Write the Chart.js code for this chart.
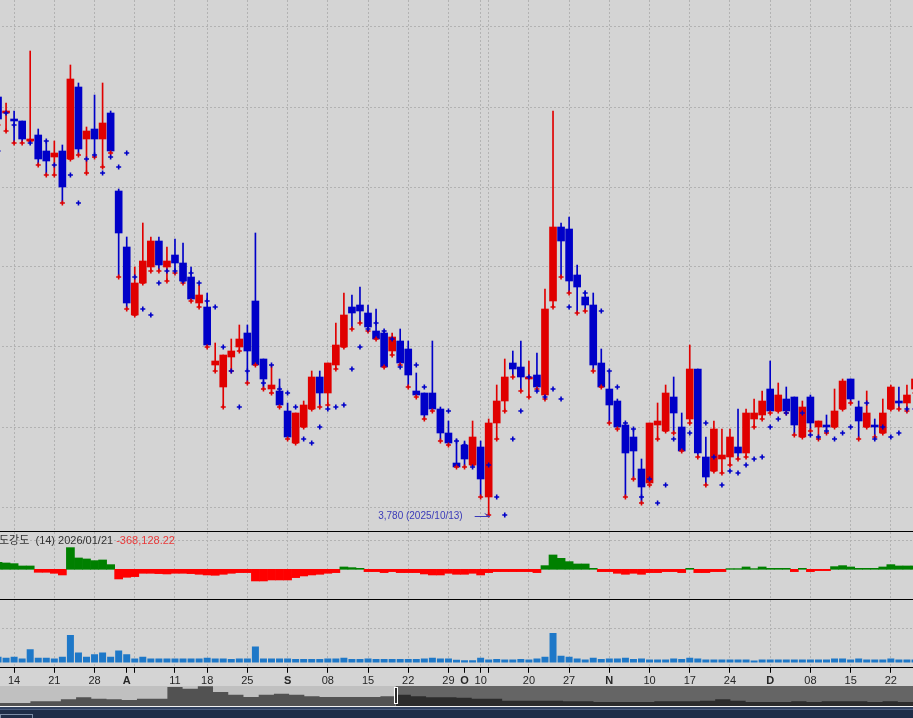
<!DOCTYPE html>
<html>
<head>
<meta charset="utf-8">
<script src="https://cdn.jsdelivr.net/npm/chart.js@4.4.1/dist/chart.umd.min.js"></script>
<style>
  html, body { margin: 0; padding: 0; width: 913px; height: 718px; overflow: hidden; background: #d4d4d4; }
  canvas { position: absolute; }
  .sep { position: absolute; left: 0; width: 913px; height: 1px; background: #000; }
  #oscTitle { position: absolute; left: -1px; top: 531px; font: 11px "Liberation Sans", "Noto Sans CJK KR", sans-serif; color: #303030; white-space: pre; }
  #oscTitle span { color: #e83a3a; }
  .bar { position: absolute; left: 0; width: 913px; }
</style>
</head>
<body>
<canvas id="main" width="925" height="531" style="left:-6px;top:0"></canvas>
<div class="sep" style="top:531px"></div>
<canvas id="osc" width="925" height="67" style="left:-6px;top:532px"></canvas>
<div id="oscTitle">도강도  (14) 2026/01/21 <span>-368,128.22</span></div>
<div class="sep" style="top:599px"></div>
<canvas id="vol" width="925" height="90" style="left:-6px;top:600px"></canvas>
<canvas id="nav" width="913" height="20" style="left:0;top:686px"></canvas>
<div class="bar" style="top:706px;height:1px;background:#f2f2f2"></div>
<div class="bar" style="top:707px;height:2px;background:#2f405f"></div>
<div class="bar" style="top:709px;height:1px;background:#4b5c7c"></div>
<div class="bar" style="top:710px;height:8px;background:#1f2d48"></div>
<div style="position:absolute;left:0;top:714px;width:31px;height:5px;border:1px solid #7d8ca6;background:#1f2d48"></div>
<script>
// trading days shown (Korea, 2025)
const tradingDays = {
  '2025-07': [10, 11, 14, 15, 16, 17, 18, 21, 22, 23, 24, 25, 28, 29, 30, 31],
  '2025-08': [1, 4, 5, 6, 7, 8, 11, 12, 13, 14, 18, 19, 20, 21, 22, 25, 26, 27, 28, 29],
  '2025-09': [1, 2, 3, 4, 5, 8, 9, 10, 11, 12, 15, 16, 17, 18, 19, 22, 23, 24, 25, 26, 29, 30],
  '2025-10': [1, 2, 10, 13, 14, 15, 16, 17, 20, 21, 22, 23, 24, 27, 28, 29, 30, 31],
  '2025-11': [3, 4, 5, 6, 7, 10, 11, 12, 13, 14, 17, 18, 19, 20, 21, 24, 25, 26, 27, 28],
  '2025-12': [1, 2, 3, 4, 5, 8, 9, 10, 11, 12, 15, 16, 17, 18, 19, 22, 23, 24, 26]
};
const dates = [];
Object.keys(tradingDays).forEach(m => tradingDays[m].forEach(d => dates.push(m + '-' + String(d).padStart(2, '0'))));

const opens = [4825,4785,4770,4765,4715,4730,4690,4675,4690,4670,
  4850,4720,4745,4720,4785,4590,4450,4280,4360,4400,
  4465,4400,4430,4410,4375,4310,4300,4155,4100,4175,
  4200,4235,4315,4170,4095,4090,4040,3960,4000,4045,
  4125,4085,4155,4200,4300,4305,4285,4240,4235,4190,
  4215,4195,4090,4085,4085,4045,3985,3910,3955,3905,
  3950,3825,4010,4065,4160,4150,4120,4130,4080,4315,
  4500,4495,4380,4325,4305,4160,4095,4065,4005,3975,
  3895,3860,4005,3990,4075,4000,4020,4145,3925,3890,
  3920,3925,3950,3935,4020,4030,4095,4040,4070,4075,
  3975,4075,4000,4005,4000,4045,4120,4050,4000,4005,
  3985,4045,4065,4060,4095];
const highs = [4830,4810,4790,4765,4940,4745,4715,4715,4705,4905,
  4860,4750,4830,4860,4790,4595,4475,4400,4510,4475,
  4475,4450,4470,4460,4400,4355,4335,4210,4180,4220,
  4255,4255,4485,4170,4155,4120,4060,4035,4065,4140,
  4140,4160,4260,4335,4330,4350,4305,4295,4240,4235,
  4245,4215,4135,4085,4215,4050,4015,3970,3965,4015,
  3965,4020,4105,4170,4190,4215,4165,4185,4345,4790,
  4510,4525,4405,4340,4335,4195,4140,4070,4010,3995,
  3920,4010,4060,4105,4125,4035,4205,4145,3975,4015,
  3995,3995,4045,4045,4070,4090,4165,4110,4100,4075,
  4065,4080,4015,4030,4095,4120,4120,4065,4090,4020,
  4070,4105,4100,4105,4120];
const lows = [4755,4740,4710,4710,4715,4655,4630,4630,4560,4670,
  4680,4635,4675,4650,4685,4375,4295,4280,4360,4390,
  4390,4365,4385,4360,4315,4300,4200,4140,4050,4140,
  4190,4110,4155,4095,4085,4050,3970,3960,4000,4045,
  4050,4055,4145,4200,4245,4260,4240,4220,4150,4180,
  4155,4100,4075,4020,4040,3965,3955,3900,3900,3905,
  3825,3780,3970,4040,4125,4090,4075,4095,4070,4300,
  4375,4335,4285,4290,4140,4100,4010,3995,3825,3870,
  3810,3855,3970,3990,3985,3940,4010,3925,3855,3890,
  3885,3905,3920,3925,4000,4020,4035,4040,4035,3980,
  3975,3990,3970,3985,4000,4045,4060,3970,4000,3975,
  3985,4045,4045,4040,4085];
const closes = [4770,4790,4765,4720,4720,4670,4665,4685,4600,4870,
  4695,4740,4720,4760,4690,4485,4310,4360,4415,4465,
  4405,4415,4410,4365,4320,4330,4205,4165,4180,4190,
  4220,4190,4155,4120,4105,4055,3975,4035,4055,4125,
  4085,4160,4205,4280,4285,4290,4250,4220,4150,4225,
  4160,4130,4080,4030,4045,3985,3960,3900,3920,3975,
  3870,4010,4065,4125,4145,4125,4125,4100,4295,4500,
  4465,4365,4350,4305,4155,4100,4055,4000,3935,3940,
  3850,4010,4015,4085,4035,3940,4145,3935,3875,3995,
  3930,3975,3935,4035,4035,4065,4040,4080,4040,4005,
  4050,4010,4015,4000,4040,4115,4070,4015,4035,4000,
  4035,4100,4060,4080,4120];
// blue markers: low displaced two sessions
const lagLow = [4690,4785,4755,4740,4710,4710,4715,4655,4630,4630,
  4560,4670,4680,4635,4675,4650,4685,4375,4295,4280,
  4360,4390,4390,4365,4385,4360,4315,4300,4200,4140,
  4050,4140,4190,4110,4155,4095,4085,4050,3970,3960,
  4000,4045,4050,4055,4145,4200,4245,4260,4240,4220,
  4150,4180,4155,4100,4075,4020,4040,3965,3955,3900,
  3900,3905,3825,3780,3970,4040,4125,4090,4075,4095,
  4070,4300,4375,4335,4285,4290,4140,4100,4010,3995,
  3825,3870,3810,3855,3970,3990,3985,3940,4010,3925,
  3855,3890,3885,3905,3920,3925,4000,4020,4035,4040,
  4035,3980,3975,3990,3970,3985,4000,4045,4060,3970,
  4000,3975,3985,4045,4045];
const strength = [1050000,950000,850000,500000,500000,-450000,-450000,-600000,-850000,3250000,
  1700000,1550000,1300000,1400000,700000,-1450000,-1200000,-1100000,-600000,-600000,
  -650000,-700000,-600000,-600000,-650000,-750000,-850000,-900000,-750000,-600000,
  -500000,-500000,-1750000,-1750000,-1600000,-1600000,-1600000,-1250000,-1000000,-850000,
  -750000,-600000,-500000,350000,250000,150000,-350000,-350000,-500000,-350000,
  -500000,-500000,-500000,-700000,-850000,-850000,-600000,-750000,-750000,-600000,
  -850000,-500000,-350000,-350000,-350000,-350000,-350000,-500000,550000,2150000,
  1650000,1150000,800000,800000,150000,-350000,-350000,-600000,-750000,-600000,
  -750000,-500000,-500000,-350000,-350000,-500000,150000,-500000,-500000,-350000,
  -350000,100000,100000,350000,100000,350000,150000,150000,150000,-350000,
  150000,-350000,-200000,-200000,400000,550000,350000,150000,150000,150000,
  350000,700000,500000,500000,500000];
const volumes = [340000,280000,340000,240000,780000,280000,280000,240000,340000,1600000,
  580000,340000,480000,580000,340000,700000,480000,240000,340000,240000,
  240000,240000,240000,240000,240000,240000,280000,240000,240000,200000,
  240000,240000,940000,240000,240000,240000,240000,200000,200000,200000,
  200000,240000,240000,280000,200000,200000,240000,200000,200000,200000,
  200000,200000,200000,240000,280000,240000,240000,160000,140000,140000,
  280000,180000,200000,180000,180000,200000,180000,240000,340000,1720000,
  400000,340000,240000,180000,280000,200000,240000,240000,280000,200000,
  240000,180000,180000,180000,240000,200000,280000,240000,180000,180000,
  180000,180000,180000,180000,120000,180000,180000,180000,180000,180000,
  180000,180000,180000,180000,240000,240000,180000,240000,180000,180000,
  180000,240000,180000,180000,180000];
// x-axis labels
const tickLabels = [
  ['2025-07-14','14'],['2025-07-21','21'],['2025-07-28','28'],['2025-08-01','A'],
  ['2025-08-11','11'],['2025-08-18','18'],['2025-08-25','25'],['2025-09-01','S'],
  ['2025-09-08','08'],['2025-09-15','15'],['2025-09-22','22'],['2025-09-29','29'],
  ['2025-10-01','O'],['2025-10-10','10'],['2025-10-20','20'],['2025-10-27','27'],
  ['2025-11-03','N'],['2025-11-10','10'],['2025-11-17','17'],['2025-11-24','24'],
  ['2025-12-01','D'],['2025-12-08','08'],['2025-12-15','15'],['2025-12-22','22']
];
// navigator: longer history of closes
const navClose = [3800,3800,4000,4000,4240,4480,4320,4240,4160,4320,
  4320,5720,5520,5800,5120,4800,4520,4800,4920,4800,
  4600,4520,4520,4520,4520,4600,4800,4600,4480,4480,
  4440,4320,4320,4080,4080,4080,4080,4000,4000,3920,
  3920,3920,3920,4000,4000,4000,4080,4240,4080,3920,
  3920,3920,4000,3920,4000,4000,4000,3920,4000,3920,4000];
const navWindowStart = 26;

Chart.defaults.animation = false;
Chart.defaults.font.family = '"Liberation Sans", Arial, sans-serif';
Chart.defaults.plugins.legend.display = false;
Chart.defaults.plugins.tooltip.enabled = false;

const UP = '#e00000', DOWN = '#0000c8', GRID = '#b2b2b2';
const candleColors = opens.map((o, i) => closes[i] >= o ? UP : DOWN);

const labelMap = new Map();
tickLabels.forEach(([d, t]) => labelMap.set(dates.indexOf(d), t));
// first session of each week gets a grid line
const weekOf = s => Math.floor((Date.parse(s) / 86400000 + 3) / 7);
const weekStart = new Set();
dates.forEach((d, i) => { if (i > 0 && weekOf(d) !== weekOf(dates[i - 1])) weekStart.add(i); });
const tickMark = new Set([...weekStart, ...labelMap.keys()]);

function xAxis(showLabels) {
  return {
    offset: true,
    grid: {
      offset: false,
      color: c => weekStart.has(c.index) ? GRID : 'transparent',
      drawTicks: showLabels,
      tickLength: 5,
      tickColor: c => tickMark.has(c.index) ? '#000' : 'transparent',
      tickBorderDash: []
    },
    border: { display: showLabels, color: '#000', width: 1, dash: [2, 2] },
    ticks: {
      display: showLabels,
      autoSkip: false,
      maxRotation: 0,
      minRotation: 0,
      padding: 2,
      color: '#262626',
      font: c => ({ size: 11, weight: /^[A-Z]$/.test(labelMap.get(c.index) || '') ? 'bold' : 'normal' }),
      callback: (v, i) => labelMap.get(i) || ''
    }
  };
}
function yAxis(min, max, keep) {
  return {
    min, max,
    grid: { color: GRID, drawTicks: false },
    border: { display: false, dash: [2, 2] },
    ticks: { display: false },
    afterBuildTicks: s => { s.ticks = keep(s.ticks); }
  };
}

const lowNote = {
  id: 'lowNote',
  afterDatasetsDraw(chart) {
    const { ctx, scales: { x, y } } = chart;
    const idx = lows.indexOf(Math.min(...lows));
    const px = x.getPixelForValue(idx);
    const py = Math.round(y.getPixelForValue(lows[idx])) + 1.5;
    ctx.save();
    ctx.strokeStyle = '#3a3ab8';
    ctx.fillStyle = '#3a3ab8';
    ctx.lineWidth = 1;
    ctx.beginPath();
    ctx.moveTo(px - 14, py); ctx.lineTo(px + 1, py);
    ctx.moveTo(px + 1, py); ctx.lineTo(px - 4, py - 3);
    ctx.stroke();
    ctx.font = '10px "Liberation Sans", Arial, sans-serif';
    ctx.textAlign = 'right';
    ctx.textBaseline = 'middle';
    ctx.fillText(lows[idx].toLocaleString('en-US') + ' (' + dates[idx].replace(/-/g, '/') + ')', px - 26, py);
    ctx.restore();
  }
};

new Chart(document.getElementById('main'), {
  type: 'bar',
  data: {
    labels: dates,
    datasets: [
      { type: 'line', data: lagLow, showLine: false, pointStyle: 'cross', pointRadius: 2.5,
        pointBorderWidth: 1.6, pointBorderColor: DOWN, borderColor: DOWN, order: 0 },
      { type: 'line', data: lows, showLine: false, pointStyle: 'cross', pointRadius: 2.5,
        pointBorderWidth: 1.6, pointBorderColor: UP, borderColor: UP, order: 0 },
      { data: opens.map((o, i) => [o, closes[i]]), backgroundColor: candleColors,
        barThickness: 7, minBarLength: 1, grouped: false, order: 1 },
      { data: lows.map((l, i) => [l, highs[i]]), backgroundColor: candleColors,
        barThickness: 1, grouped: false, order: 2 }
    ]
  },
  options: {
    responsive: false,
    devicePixelRatio: 1,
    layout: { padding: 0, autoPadding: false },
    scales: {
      x: xAxis(false),
      y: yAxis(3740, 5067.5, t => t.filter(k => k.value % 200 === 0))
    }
  },
  plugins: [lowNote]
});

new Chart(document.getElementById('osc'), {
  type: 'bar',
  data: {
    labels: dates,
    datasets: [{ data: strength, backgroundColor: strength.map(v => v >= 0 ? '#008000' : '#ff0000'),
      barPercentage: 1, categoryPercentage: 1 }]
  },
  options: {
    responsive: false,
    devicePixelRatio: 1,
    layout: { padding: 0, autoPadding: false },
    scales: {
      x: xAxis(false),
      y: yAxis(-4455000, 5595000, () => [{ value: 4300000 }])
    }
  }
});

new Chart(document.getElementById('vol'), {
  type: 'bar',
  data: {
    labels: dates,
    datasets: [{ data: volumes, backgroundColor: '#1e78c8', barPercentage: 0.87, categoryPercentage: 1 }]
  },
  options: {
    responsive: false,
    devicePixelRatio: 1,
    layout: { padding: 0, autoPadding: false },
    scales: {
      x: xAxis(true),
      y: yAxis(-306000, 3642000, () => [{ value: 2000000 }])
    }
  }
});

const navShade = {
  id: 'navShade',
  beforeDatasetsDraw(chart) {
    const { ctx, chartArea: a, scales: { x } } = chart;
    const hx = x.getPixelForValue(navWindowStart);
    ctx.save();
    ctx.fillStyle = '#c0c0c0';
    ctx.fillRect(a.left, a.top, hx - a.left, a.bottom - a.top);
    ctx.fillStyle = '#656565';
    ctx.fillRect(hx, a.top, a.right - hx, a.bottom - a.top);
    ctx.restore();
  },
  afterDatasetsDraw(chart) {
    const { ctx, chartArea: a, scales: { x } } = chart;
    const hx = Math.round(x.getPixelForValue(navWindowStart));
    ctx.save();
    ctx.fillStyle = '#2b2b2b';
    ctx.fillRect(hx - 2, a.top + 1, 4, 17);
    ctx.strokeStyle = '#ffffff';
    ctx.lineWidth = 1;
    ctx.strokeRect(hx - 1.5, a.top + 1.5, 3, 16);
    ctx.restore();
  }
};

new Chart(document.getElementById('nav'), {
  type: 'line',
  data: {
    labels: navClose.map((v, i) => i),
    datasets: [
      { data: navClose.map((v, i) => i <= navWindowStart ? v : null), fill: 'start', stepped: true,
        backgroundColor: '#525252', borderWidth: 0, pointRadius: 0 },
      { data: navClose.map((v, i) => i >= navWindowStart ? v : null), fill: 'start', stepped: true,
        backgroundColor: '#2c2c2c', borderWidth: 0, pointRadius: 0 }
    ]
  },
  options: {
    responsive: false,
    devicePixelRatio: 1,
    layout: { padding: 0, autoPadding: false },
    scales: {
      x: { display: false, offset: false },
      y: { display: false, min: 3440, max: 5840 }
    }
  },
  plugins: [navShade]
});
</script>
</body>
</html>
